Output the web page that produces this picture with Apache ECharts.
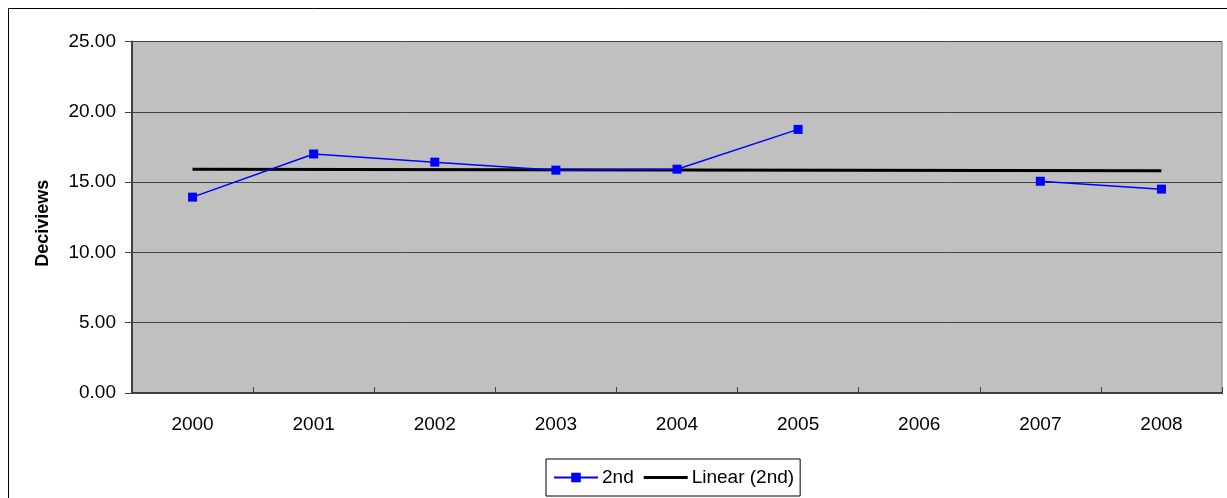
<!DOCTYPE html>
<html>
<head>
<meta charset="utf-8">
<script src="https://cdn.jsdelivr.net/npm/echarts@6/dist/echarts.min.js"></script>
<style>
  html, body { margin: 0; padding: 0; background: #ffffff; }
  #chart { width: 1227px; height: 498px; }
</style>
</head>
<body>
<div id="chart"></div>
<script>
// Yearly deciview values for the 2nd group (2006 has no data)
const years = ['2000', '2001', '2002', '2003', '2004', '2005', '2006', '2007', '2008'];
const secondValues = [13.93, 17.0, 16.42, 15.85, 15.92, 18.75, null, 15.06, 14.5];
// Linear trend end points (first and last year)
const trendStart = 15.92;
const trendEnd = 15.8;
const trendValues = years.map((y, i) =>
  i === 0 ? trendStart : (i === years.length - 1 ? trendEnd : null));

const chart = echarts.init(document.getElementById('chart'), null, { renderer: 'canvas' });

const fontFamily = 'Liberation Sans, Arial, sans-serif';

chart.setOption({
  animation: false,
  backgroundColor: '#ffffff',
  graphic: [{
    type: 'rect',
    shape: { x: 8.5, y: 8.5, width: 1240, height: 520 },
    style: { fill: 'none', stroke: '#000000', lineWidth: 1 },
    silent: true
  }],
  grid: {
    left: 132, right: 5, top: 41.5, bottom: 105,
    show: true,
    backgroundColor: '#c0c0c0',
    borderColor: '#808080',
    borderWidth: 1
  },
  legend: {
    left: 546, top: 459,
    orient: 'horizontal',
    backgroundColor: '#ffffff',
    borderColor: '#000000',
    borderWidth: 1,
    borderRadius: 0,
    padding: [9, 6, 9, 7],
    itemGap: 10,
    itemWidth: 44,
    itemHeight: 12,
    textStyle: { fontFamily: fontFamily, fontSize: 19, color: '#000000', padding: [0, 0, 0, -1] },
    data: [
      { name: '2nd' },
      { name: 'Linear (2nd)', icon: 'path://M0,4 L44,4 L44,7 L0,7 Z' }
    ]
  },
  xAxis: {
    type: 'category',
    data: years,
    boundaryGap: true,
    axisLine: { show: true, lineStyle: { color: '#404040', width: 2 } },
    axisTick: { show: true, inside: true, length: 6, alignWithLabel: false, lineStyle: { color: '#404040', width: 1 } },
    axisLabel: { fontFamily: fontFamily, fontSize: 19, color: '#000000', margin: 22 },
    splitLine: { show: false }
  },
  yAxis: {
    type: 'value',
    min: 0, max: 25, interval: 5,
    name: 'Deciviews',
    nameLocation: 'middle',
    nameGap: 80,
    nameRotate: 90,
    nameTextStyle: {
      fontFamily: fontFamily, fontSize: 18, fontWeight: 'bold', color: '#000000',
      padding: [0, 12, 0, 0]
    },
    axisLine: { show: true, lineStyle: { color: '#404040', width: 2 } },
    axisTick: { show: true, inside: false, length: 7, lineStyle: { color: '#404040', width: 1 } },
    axisLabel: {
      fontFamily: fontFamily, fontSize: 19, color: '#000000', margin: 16,
      formatter: v => v.toFixed(2)
    },
    splitLine: { show: true, lineStyle: { color: '#404040', width: 1 } }
  },
  series: [
    {
      name: '2nd',
      type: 'line',
      data: secondValues,
      connectNulls: false,
      symbol: 'rect',
      symbolSize: 9,
      itemStyle: { color: '#0000ff' },
      lineStyle: { color: '#0000ff', width: 1.5 },
      z: 3
    },
    {
      name: 'Linear (2nd)',
      type: 'line',
      data: trendValues,
      connectNulls: true,
      symbol: 'none',
      itemStyle: { color: '#000000' },
      lineStyle: { color: '#000000', width: 3 },
      z: 2
    }
  ]
});
</script>
</body>
</html>
